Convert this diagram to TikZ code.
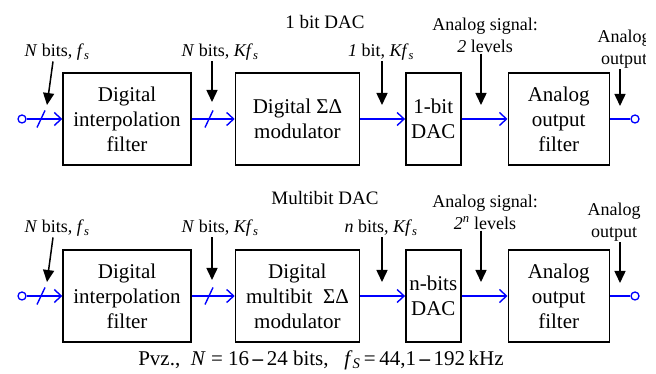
\documentclass[tikz,border=0pt]{standalone}
\usepackage{fontspec}
\setmainfont{Liberation Serif}
\usetikzlibrary{positioning,arrows.meta}
\definecolor{sigblue}{RGB}{0,0,255}
\newcommand{\fsub}{\textit{f}\textsubscript{\textit{s}}}
\newcommand{\Kfsub}{\textit{Kf}\textsubscript{\textit{s}}}
\tikzset{
  block/.style={
    draw=black,
    line width=1.4pt,
    rectangle,
    minimum height=92pt,
    inner sep=2pt,
    align=center,
    font=\fontsize{21}{25}\selectfont
  },
  note/.style={font=\fontsize{18}{22}\selectfont, align=center, inner sep=1pt},
  title/.style={font=\fontsize{19}{23}\selectfont},
  sig/.style={draw=sigblue, line width=1.4pt},
  sigarrow/.style={sig, -{Straight Barb[length=7pt,width=13pt]}},
  pointer/.style={draw=black, line width=1.5pt, -{Triangle[length=12pt,width=11pt]}},
  port/.style={circle, draw=sigblue, fill=white, line width=1.3pt,
    minimum size=8pt, inner sep=0pt}
}
\begin{document}
\begin{tikzpicture}[x=1pt,y=1pt]
\useasboundingbox (0,0) rectangle (656,374);

% 1 bit DAC
\node[title] (ttla) at (325,352) {1 bit DAC};
\node[block, minimum width=128pt] (fa) at (127,255) {Digital\\interpolation\\filter};
\node[block, minimum width=124pt, right=43pt of fa] (ma) {Digital ΣΔ\\modulator};
\node[block, minimum width=55pt, right=45pt of ma] (da) {1-bit\\DAC};
\node[block, minimum width=101pt, right=46pt of da] (aa) {Analog\\output\\filter};
\node[port] (ina) at (22,255) {};
\node[port] (outa) at (635,255) {};

% Multibit DAC
\node[title] (ttlb) at (325,176) {Multibit DAC};
\node[block, minimum width=128pt] (fb) at (127,78) {Digital\\interpolation\\filter};
\node[block, minimum width=124pt, right=43pt of fb] (mb) {Digital\\multibit~~ΣΔ\\modulator};
\node[block, minimum width=55pt, right=45pt of mb] (db) {n-bits\\DAC};
\node[block, minimum width=101pt, right=46pt of db] (ab) {Analog\\output\\filter};
\node[port] (inb) at (22,78) {};
\node[port] (outb) at (635,78) {};

% Signal path
\foreach \a/\b in {ina/fa, fa/ma, ma/da, da/aa, inb/fb, fb/mb, mb/db, db/ab}
  \draw[sigarrow] (\a) -- (\b);
\draw[sig] (aa) -- (outa);
\draw[sig] (ab) -- (outb);
\foreach \x/\y in {41/255, 209/255, 41/78, 209/78}
  \draw[sig] (\x,\y) ++(-4,-8.5) -- ++(8,17);

% Labels
\node[note] (na1) at (57,322) {\textit{N} bits, \fsub};
\node[note] (na2) at (220,322) {\textit{N} bits, \Kfsub};
\node[note] (na3) at (381,322) {\textit{1} bit, \Kfsub};
\node[note] (na4) at (485,339) {Analog signal:\\\textit{2} levels};
\begin{scope}
  \clip (580,300) rectangle (645,350);
  \node[note] (na5) at (624,325) {Analog\\output};
\end{scope}

\node[note] (nb1) at (57,146) {\textit{N} bits, \fsub};
\node[note] (nb2) at (220,146) {\textit{N} bits, \Kfsub};
\node[note] (nb3) at (381,146) {\textit{n} bits, \Kfsub};
\node[note] (nb4) at (485,162) {Analog signal:\\\textit{2\textsuperscript{n}} levels};
\node[note] (nb5) at (614,152) {Analog\\output};

\coordinate (ta1) at (47,269);
\coordinate (ta2) at (212,272);
\coordinate (ta3) at (382,269);
\coordinate (ta4) at (481,269);
\coordinate (ta5) at (620,268);
\coordinate (tb1) at (47,92);
\coordinate (tb2) at (212,94);
\coordinate (tb3) at (382,92);
\coordinate (tb4) at (481,92);
\coordinate (tb5) at (620,91);

% Pointers
\draw[pointer] ([xshift=-4pt]na1.south) -- (ta1);
\draw[pointer] ([xshift=-4pt]nb1.south) -- (tb1);
\foreach \n in {2,3,4,5} {
  \draw[pointer] (na\n.south -| ta\n) -- (ta\n);
  \draw[pointer] (nb\n.south -| tb\n) -- (tb\n);
}

\node[font=\fontsize{21}{25}\selectfont] (note) at (321,14)
  {Pvz.,\ \ \textit{N} = 16\,\textbf{--}\,24 bits,\ \ \ \textit{f}\textsubscript{\textit{S}}\,=\,44,1\,\textbf{--}\,192\,kHz};

\end{tikzpicture}
\end{document}
